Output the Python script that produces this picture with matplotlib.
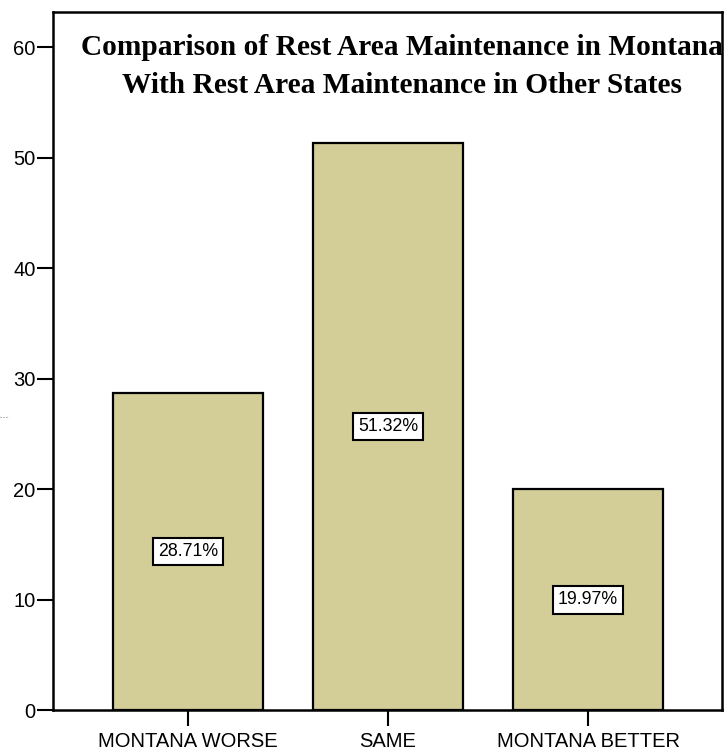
import matplotlib
matplotlib.use("Agg")
import matplotlib.pyplot as plt
from matplotlib.lines import Line2D

categories = ["MONTANA WORSE", "SAME", "MONTANA BETTER"]
percents = [28.71, 51.32, 19.97]
yticks = [0, 10, 20, 30, 40, 50, 60]
title_lines = ["Comparison of Rest Area Maintenance in Montana",
               "With Rest Area Maintenance in Other States"]

W, H = 725, 753
fig = plt.figure(figsize=(W / 100, H / 100), dpi=100)
ax = fig.add_axes([53 / W, 1 - 710 / H, (722 - 53) / W, (710 - 12) / H])

x = list(range(len(categories)))
ax.bar(x, percents, width=0.75, color="#D3CD98", edgecolor="black", linewidth=1.6, zorder=2)

for xi, v in zip(x, percents):
    ax.text(xi, v / 2, f"{v:.2f}%", ha="center", va="center",
            fontsize=12.8, family="Liberation Sans", zorder=3,
            bbox=dict(boxstyle="square,pad=0.3", fc="white", ec="black", lw=1.5))

ax.set_xlim(-0.675, 2.67)
ax.set_ylim(0, 63.2)
ax.set_xticks(x)
ax.set_xticklabels(categories, family="Liberation Sans", fontsize=14.5)
ax.set_yticks(yticks)
ax.set_yticklabels([str(t) for t in yticks], family="Liberation Sans", fontsize=14.5)
ax.tick_params(axis="y", direction="out", length=11.5, width=1.5, pad=1)
ax.tick_params(axis="x", direction="out", length=11.5, width=1.5, pad=4)
for s in ax.spines.values():
    s.set_linewidth(1.8)

cx = (402 - 53) / (722 - 53)
ax.text(cx, 1 - (47 - 12) / (710 - 12), title_lines[0], transform=ax.transAxes,
        ha="center", va="center", family="Liberation Serif", fontweight="bold", fontsize=21.2)
ax.text(cx, 1 - (85 - 12) / (710 - 12), title_lines[1], transform=ax.transAxes,
        ha="center", va="center", family="Liberation Serif", fontweight="bold", fontsize=21.2)

# small dotted stub near the left edge
fig.add_artist(Line2D([0, 9 / W], [1 - 417 / H, 1 - 417 / H], color="#888888",
                      linestyle=":", linewidth=0.8))

fig.savefig("out.png", dpi=100)
